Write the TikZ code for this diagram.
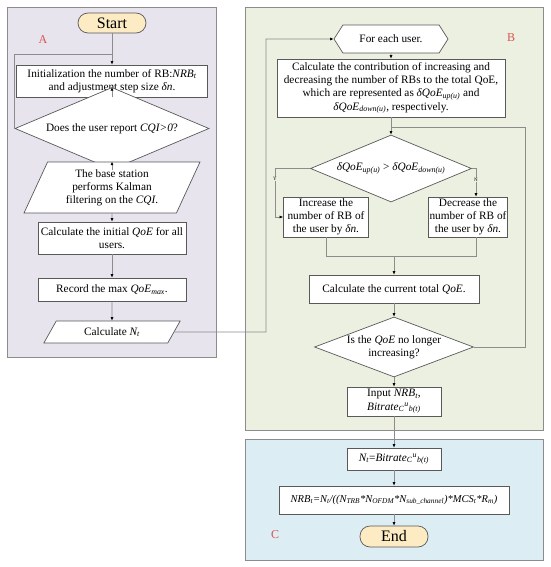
\documentclass[tikz,border=0pt]{standalone}
\usepackage{fontspec}
\setmainfont{Liberation Serif}
\usetikzlibrary{arrows.meta, positioning, calc, shapes.geometric, shapes.symbols}

\definecolor{panelA}{HTML}{E7E4EE}
\definecolor{panelB}{HTML}{EBF0E0}
\definecolor{panelC}{HTML}{DCEEF4}
\definecolor{termfill}{HTML}{FCEBC3}
\definecolor{labelred}{HTML}{D9534F}

\begin{document}
\begin{tikzpicture}[
    x=1pt, y=-1pt,
    font=\fontsize{11.3}{13.2}\selectfont,
    >= {Latex[length=3.5pt, width=3pt]},
    flow/.style={draw=black!45, line width=0.6pt},
    arrowline/.style={flow, -{Latex[length=3.5pt, width=3pt, color=black]}},
    box/.style={draw=black!65, fill=white, line width=0.7pt, align=center, inner sep=1pt},
    term/.style={box, fill=termfill, rounded corners=10pt, font=\fontsize{16}{18}\selectfont},
    decision/.style={box, diamond, inner sep=0pt},
    slanted/.style={box, trapezium, trapezium stretches=true},
    hexbox/.style={box, signal, signal to=west and east, signal pointer angle=115},
    panel/.style={draw=black!45, line width=0.8pt},
    tag/.style={text=labelred, font=\fontsize{12}{14}\selectfont},
    yn/.style={font=\fontsize{5}{6}\selectfont, inner sep=0.5pt},
    ]

    \useasboundingbox (0,0) rectangle (550,567);

    % Macro for the bitrate term
    \newcommand{\bitrateterm}{\textit{Bitrate}\textsubscript{\textit{C}}\textsuperscript{\textit{u}}\textsubscript{\textit{b(t)}}}

    % ==========================================
    % Panels
    % ==========================================
    \filldraw[panel, fill=panelA] (7,7) rectangle (216,357);
    \filldraw[panel, fill=panelB] (245,7) rectangle (543,430);
    \filldraw[panel, fill=panelC] (245,439) rectangle (543,560);

    \node[tag] (tagA) at (43,40) {A};
    \node[tag] (tagB) at (511,38) {B};
    \node[tag] (tagC) at (275,535) {C};

    % ==========================================
    % Part A
    % ==========================================
    \node[term, minimum width=68pt, minimum height=20pt] (start) at (112,23) {Start};
    \node[box, minimum width=191pt, minimum height=32pt] (init) at (112,81)
        {Initialization the number of RB:\textit{NRB\textsubscript{t}} \\ and adjustment step size \textit{δn}.};
    \node[decision, minimum width=194pt, minimum height=43pt, inner xsep=-30pt] (cqi) at (112,128.5)
        {Does the user report \textit{CQI>0}?};
    \node[slanted, trapezium left angle=66, trapezium right angle=114, minimum width=176pt, minimum height=51pt] (kalman) at (112,187.5)
        {The base station \\ performs Kalman \\ filtering on the \textit{CQI}.};
    \node[box, minimum width=148pt, minimum height=32pt] (initqoe) at (112,238)
        {Calculate the initial \textit{QoE} for all \\ users.};
    \node[box, minimum width=148pt, minimum height=23pt] (record) at (112,289.5)
        {Record the max \textit{QoE\textsubscript{max}}.};
    \node[slanted, trapezium left angle=61, trapezium right angle=119, minimum width=137pt, minimum height=22pt] (calcn) at (112,332)
        {Calculate \textit{N\textsubscript{t}}};

    \coordinate (joinA) at (112,54);
    \coordinate (turnB) at (266,332);

    \draw[arrowline] (start) -- (init);
    \draw[flow] (cqi.west) |- (joinA);
    \draw[arrowline] (init) -- (cqi);
    \draw[arrowline] (cqi) -- (kalman);
    \draw[arrowline] (kalman) -- (initqoe);
    \draw[arrowline] (initqoe) -- (record);
    \draw[arrowline] (record) -- (calcn);

    % ==========================================
    % Part B
    % ==========================================
    \node[hexbox, minimum width=114pt, minimum height=28pt] (each) at (391,39) {For each user.};
    \node[box, minimum width=228pt, minimum height=58pt] (contrib) at (391,88)
        {Calculate the contribution of increasing and \\
         decreasing the number of RBs to the total QoE, \\
         which are represented as \textit{δQoE\textsubscript{up(u)}} and \\
         \textit{δQoE\textsubscript{down(u)}}, respectively.};
    \node[decision, minimum width=161pt, minimum height=67pt, aspect=2.4, inner xsep=-6pt] (cmp) at (391,168.5)
        {\textit{δQoE\textsubscript{up(u)}} > \textit{δQoE\textsubscript{down(u)}}};
    \node[box, minimum width=85pt, minimum height=40pt] (inc) at (326,217)
        {Increase the \\ number of RB of \\ the user by \textit{δn}.};
    \node[box, minimum width=76pt, minimum height=40pt] (dec) at (468,217)
        {Decrease the \\ number of RB of \\ the user by \textit{δn}.};
    \node[box, minimum width=170pt, minimum height=28pt] (total) at (394,289)
        {Calculate the current total \textit{QoE}.};
    \node[decision, minimum width=159pt, minimum height=60pt, aspect=2.65, inner xsep=-15pt] (stop) at (394,347)
        {Is the \textit{QoE} no longer \\ increasing?};
    \node[box, minimum width=94pt, minimum height=29pt] (input) at (394,401.5)
        {Input \textit{NRB\textsubscript{t}}, \\ \bitrateterm};

    \coordinate (yturn) at (275,168.5);
    \coordinate (nturn) at (476,168.5);
    \coordinate (mergeR) at (476,256);
    \coordinate (mergeC) at (total.north |- mergeR);
    \coordinate (loopB) at (525,347);
    \coordinate (joinB) at (391,127);

    \draw[arrowline] (calcn.east) -- (turnB) |- (each.west);
    \draw[arrowline] (each) -- (contrib);
    \draw[arrowline] (contrib) -- (cmp);
    \draw[arrowline] (cmp.west) -- (yturn) |- (inc.west);
    \draw[arrowline] (cmp.east) -- (nturn) -- (nturn |- dec.north);
    \draw[flow] (inc.south) |- (mergeR) -- (mergeR |- dec.south);
    \draw[arrowline] (mergeC) -- (total);
    \draw[arrowline] (total) -- (stop);
    \draw[flow] (stop.east) -- (loopB) |- (joinB);
    \draw[arrowline] (stop) -- (input);

    \node[yn, fill=panelB] (ylab) at (275,179) {Y};
    \node[yn, fill=panelB] (nlab) at (476,180) {N};

    % ==========================================
    % Part C
    % ==========================================
    \node[box, minimum width=94pt, minimum height=22pt] (nt) at (394,459)
        {\textit{N\textsubscript{t}}=\bitrateterm};
    \node[box, minimum width=230pt, minimum height=28pt, font=\fontsize{10.5}{12.5}\selectfont] (nrb) at (394,500)
        {\textit{NRB\textsubscript{t}=N\textsubscript{t}/((N\textsubscript{TRB}*N\textsubscript{OFDM}*N\textsubscript{sub\_channel})*MCS\textsubscript{t}*R\textsubscript{m})}};
    \node[term, minimum width=68pt, minimum height=21pt] (end) at (394,536.5) {End};

    \draw[arrowline] (input) -- (nt);
    \draw[arrowline] (nt) -- (nrb);
    \draw[arrowline] (nrb) -- (end);

\end{tikzpicture}
\end{document}
